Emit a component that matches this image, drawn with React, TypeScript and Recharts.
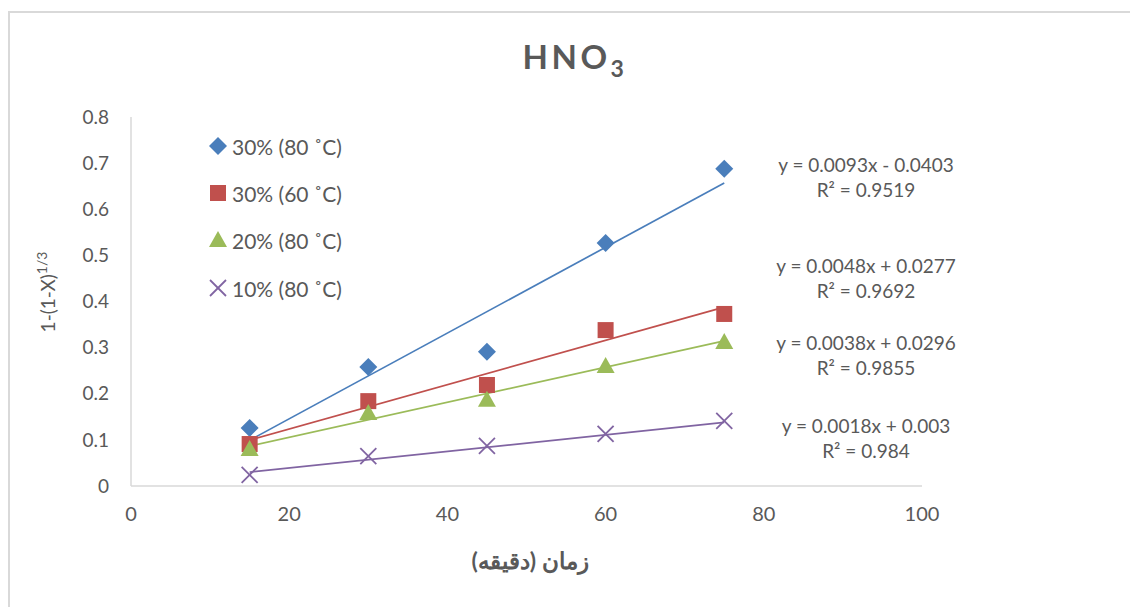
import React from 'react';
import { ComposedChart, Scatter, Line, XAxis, YAxis } from 'recharts';

const xValues = [15, 30, 45, 60, 75];
const s30at80 = [0.126, 0.258, 0.291, 0.527, 0.688];
const s30at60 = [0.091, 0.184, 0.219, 0.338, 0.373];
const s20at80 = [0.08, 0.158, 0.187, 0.26, 0.312];
const s10at80 = [0.024, 0.065, 0.087, 0.113, 0.141];

const trendX = [15, 75];
const t30at80 = [0.0992, 0.657];
const t30at60 = [0.0997, 0.3877];
const t20at80 = [0.0866, 0.3146];
const t10at80 = [0.03, 0.138];

const seriesNames = ['30% (80 ˚C)', '30% (60 ˚C)', '20% (80 ˚C)', '10% (80 ˚C)'];
const colors = ['#4A7EBB', '#C0504D', '#9BBB59', '#8064A2'];
const equations = [
  ['y = 0.0093x - 0.0403', 'R² = 0.9519'],
  ['y = 0.0048x + 0.0277', 'R² = 0.9692'],
  ['y = 0.0038x + 0.0296', 'R² = 0.9855'],
  ['y = 0.0018x + 0.003', 'R² = 0.984'],
];
const xTicks = [0, 20, 40, 60, 80, 100];
const yTicks = [0, 0.1, 0.2, 0.3, 0.4, 0.5, 0.6, 0.7, 0.8];

const toPts = (ys: number[]) => xValues.map((x, i) => ({ x, y: ys[i] }));
const toTrend = (ys: number[]) => trendX.map((x, i) => ({ x, y: ys[i] }));

const FONT = 'Lato, "Noto Sans", sans-serif';
const TXT = '#595959';

const Diamond = (p: any) => (
  <polygon points={`${p.cx},${p.cy - 9} ${p.cx + 9},${p.cy} ${p.cx},${p.cy + 9} ${p.cx - 9},${p.cy}`} fill={colors[0]} />
);
const Square = (p: any) => <rect x={p.cx - 8} y={p.cy - 8} width={16} height={16} fill={colors[1]} />;
const Triangle = (p: any) => (
  <polygon points={`${p.cx},${p.cy - 9} ${p.cx + 9},${p.cy + 7} ${p.cx - 9},${p.cy + 7}`} fill={colors[2]} />
);
const Cross = (p: any) => (
  <g stroke={colors[3]} strokeWidth={1.8}>
    <line x1={p.cx - 8} y1={p.cy - 8} x2={p.cx + 8} y2={p.cy + 8} />
    <line x1={p.cx - 8} y1={p.cy + 8} x2={p.cx + 8} y2={p.cy - 8} />
  </g>
);
const shapes = [Diamond, Square, Triangle, Cross];

const legendRows = [146, 193, 240, 288];
const eqRows = [165, 266, 343, 426];

export default function App() {
  return (
    <div style={{ position: 'absolute', left: 0, top: 0, width: 1130, height: 607, overflow: 'hidden', background: '#fff', fontFamily: FONT }}>
      <div style={{ position: 'absolute', left: 8, top: 11, width: 1140, height: 620, border: '2px solid #d9d9d9', boxSizing: 'border-box' }} />
      <ComposedChart width={1130} height={607} margin={{ top: 117, right: 208, bottom: 81, left: 71 }} style={{ position: 'absolute', left: 0, top: 0 }}>
        <XAxis
          type="number"
          dataKey="x"
          domain={[0, 100]}
          ticks={xTicks}
          height={40}
          axisLine={{ stroke: '#d9d9d9', strokeWidth: 1.5 }}
          tickLine={false}
          tickSize={0}
          tickMargin={21}
          tick={{ fill: TXT, fontSize: 20, fontFamily: FONT }}
        />
        <YAxis
          type="number"
          domain={[0, 0.8]}
          ticks={yTicks}
          width={60}
          axisLine={{ stroke: '#d9d9d9', strokeWidth: 1.5 }}
          tickLine={false}
          tickSize={0}
          tickMargin={22}
          tick={{ fill: TXT, fontSize: 19, fontFamily: FONT }}
        />
        {[s30at80, s30at60, s20at80, s10at80].map((s, i) => (
          <Scatter key={'s' + i} data={toPts(s)} dataKey="y" shape={shapes[i]} isAnimationActive={false} />
        ))}
        {[t30at80, t30at60, t20at80, t10at80].map((t, i) => (
          <Line key={'t' + i} data={toTrend(t)} dataKey="y" stroke={colors[i]} strokeWidth={1.7} dot={false} activeDot={false} isAnimationActive={false} />
        ))}
      </ComposedChart>

      <div style={{ position: 'absolute', left: 0, width: 1150, top: 36, textAlign: 'center', fontSize: 33, fontWeight: 700, color: TXT, letterSpacing: 3.5 }}>
        HNO<sub style={{ fontSize: 23, verticalAlign: '-0.35em' }}>3</sub>
      </div>

      {seriesNames.map((n, i) => {
        const S = shapes[i];
        return (
          <div key={n} style={{ position: 'absolute', left: 207, top: legendRows[i] - 15, height: 30, display: 'flex', alignItems: 'center' }}>
            <svg width={22} height={22} style={{ marginRight: 3 }}>
              <S cx={11} cy={11} />
            </svg>
            <span style={{ fontSize: 21, color: TXT, whiteSpace: 'nowrap' }}>{n}</span>
          </div>
        );
      })}

      {equations.map((e, i) => (
        <div key={i} style={{ position: 'absolute', left: 766, width: 200, top: eqRows[i] - 13, textAlign: 'center', fontSize: 19, color: TXT, lineHeight: '25px' }}>
          <div>{e[0]}</div>
          <div>{e[1]}</div>
        </div>
      ))}

      <div style={{ position: 'absolute', left: 46, top: 292, width: 0, height: 0 }}>
        <div style={{ position: 'absolute', transform: 'translate(-50%, -50%) rotate(-90deg)', fontSize: 19, color: TXT, whiteSpace: 'nowrap' }}>
          1-(1-X)<sup style={{ fontSize: 14 }}>1/3</sup>
        </div>
      </div>

      <div dir="rtl" style={{ position: 'absolute', left: 430, width: 200, top: 546, textAlign: 'center', fontSize: 23, fontWeight: 700, color: TXT }}>
        زمان (دقیقه)
      </div>
    </div>
  );
}
